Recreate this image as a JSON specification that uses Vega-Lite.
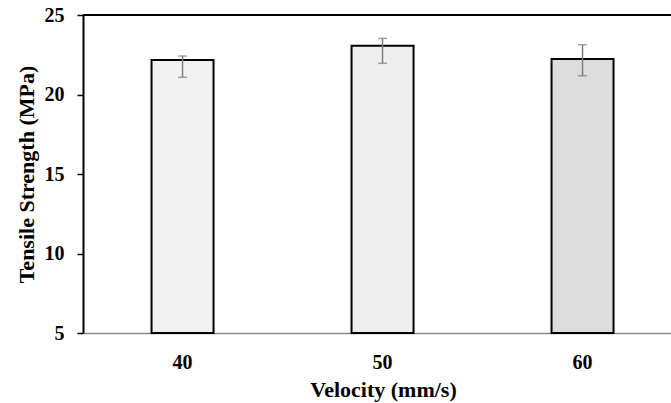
{
  "$schema": "https://vega.github.io/schema/vega-lite/v6.json",
  "autosize": "none",
  "width": 588,
  "height": 318,
  "padding": {"left": 83, "top": 15, "right": 0, "bottom": 70},
  "background": "white",
  "config": {
    "view": {"stroke": null},
    "font": "Liberation Serif"
  },
  "data": {
    "values": [
      {"Velocity": "40", "Strength": 22.17, "Low": 21.08, "High": 22.42},
      {"Velocity": "50", "Strength": 23.07, "Low": 21.96, "High": 23.53},
      {"Velocity": "60", "Strength": 22.23, "Low": 21.18, "High": 23.13}
    ]
  },
  "encoding": {
    "x": {
      "field": "Velocity",
      "type": "nominal",
      "sort": null,
      "scale": {"paddingInner": 0.69, "paddingOuter": 0.315, "align": 0.544},
      "axis": {
        "title": "Velocity (mm/s)",
        "labelAngle": 0,
        "labelFont": "Liberation Serif",
        "labelFontWeight": "bold",
        "labelFontSize": 20,
        "labelColor": "black",
        "labelPadding": 19,
        "ticks": false,
        "domainColor": "#8c8c8c",
        "domainWidth": 1.5,
        "titleFont": "Liberation Serif",
        "titleFontWeight": "bold",
        "titleFontSize": 22,
        "titleColor": "black",
        "titlePadding": 7,
        "titleX": 300,
        "titleAnchor": "middle"
      }
    }
  },
  "layer": [
    {
      "mark": {"type": "bar", "stroke": "black", "strokeWidth": 2},
      "encoding": {
        "y": {
          "field": "Strength",
          "type": "quantitative",
          "scale": {"domain": [5, 25], "zero": false, "nice": false},
          "axis": {
            "title": "Tensile Strength (MPa)",
            "values": [5, 10, 15, 20, 25],
            "grid": false,
            "labelFont": "Liberation Serif",
            "labelFontWeight": "bold",
            "labelFontSize": 20,
            "labelColor": "black",
            "labelPadding": 13,
            "tickSize": 6,
            "tickColor": "black",
            "tickWidth": 1.5,
            "domainColor": "black",
            "domainWidth": 2,
            "titleFont": "Liberation Serif",
            "titleFontWeight": "bold",
            "titleFontSize": 22,
            "titleColor": "black",
            "titlePadding": 6
          }
        },
        "y2": {"datum": 5},
        "color": {
          "field": "Velocity",
          "type": "nominal",
          "scale": {"range": ["#f1f1f1", "#eeeeee", "#dcdcdc"]},
          "legend": null
        }
      }
    },
    {
      "mark": {"type": "rule", "color": "#7f7f7f", "strokeWidth": 1.5},
      "encoding": {
        "y": {"field": "Low", "type": "quantitative"},
        "y2": {"field": "High"}
      }
    },
    {
      "mark": {"type": "tick", "color": "#7f7f7f", "thickness": 1.5, "size": 9},
      "encoding": {"y": {"field": "Low", "type": "quantitative"}}
    },
    {
      "mark": {"type": "tick", "color": "#7f7f7f", "thickness": 1.5, "size": 9},
      "encoding": {"y": {"field": "High", "type": "quantitative"}}
    },
    {
      "mark": {"type": "rule", "color": "black", "strokeWidth": 2},
      "encoding": {"y": {"datum": 25}, "x": null}
    }
  ]
}
